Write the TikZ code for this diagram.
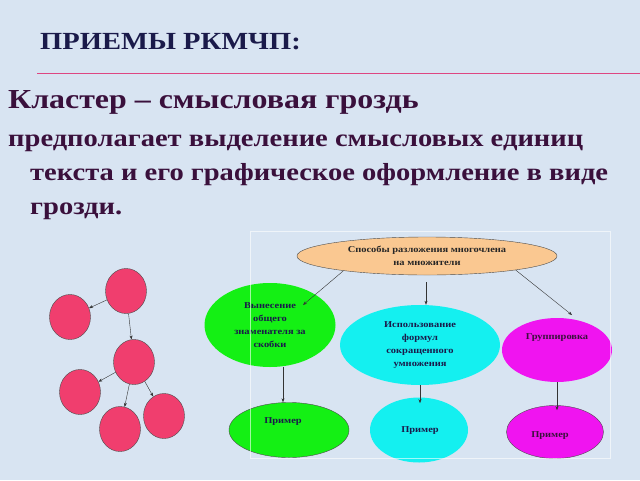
\documentclass[tikz,border=0pt]{standalone}
\usepackage{fontspec}
\setmainfont{Liberation Serif}
\newfontfamily\widefont[FakeStretch=1.16]{Liberation Serif}
\usetikzlibrary{shapes.geometric,arrows.meta}
\definecolor{slidebg}{RGB}{216,228,242}
\definecolor{titleblue}{RGB}{26,26,74}
\definecolor{headpurple}{RGB}{58,16,60}
\definecolor{rulepink}{RGB}{222,70,130}
\definecolor{grapepink}{RGB}{240,62,110}
\definecolor{peach}{RGB}{250,200,145}
\definecolor{limegreen}{RGB}{20,240,20}
\definecolor{brightcyan}{RGB}{20,240,240}
\definecolor{brightmagenta}{RGB}{240,20,240}

\begin{document}
\begin{tikzpicture}[x=1pt,y=-1pt,
  slidetext/.style={anchor=base west, inner sep=0pt, text=headpurple},
  grape/.style={ellipse, draw=black!70, fill=grapepink, minimum width=41pt, minimum height=45pt, inner sep=0pt},
  way/.style={ellipse, inner sep=0pt, align=center, font=\widefont\fontsize{9}{13}\selectfont\bfseries, text=titleblue},
  link/.style={-{Stealth[length=4pt,width=3pt]}, thin, black!80}]
\useasboundingbox[fill=slidebg] (0,0) rectangle (640,480);

% heading
\node[slidetext, text=titleblue, font=\widefont\fontsize{24.6}{28}\selectfont\bfseries] (title) at (40,49) {ПРИЕМЫ РКМЧП:};
\draw[rulepink, line width=1pt] (37,73) -- (640,73);
\node[slidetext, font=\widefont\fontsize{27.5}{32}\selectfont\bfseries] (head) at (8,108) {Кластер – смысловая гроздь};
\node[slidetext, font=\widefont\fontsize{24.6}{30}\selectfont\bfseries] (line1) at (8,146) {предполагает выделение смысловых единиц};
\node[slidetext, font=\widefont\fontsize{24.6}{30}\selectfont\bfseries] (line2) at (30,180) {текста и его графическое оформление в виде};
\node[slidetext, font=\widefont\fontsize{24.6}{30}\selectfont\bfseries] (line3) at (30,214) {грозди.};

% cluster
\node[grape] (g1) at (126,291) {};
\node[grape] (g2) at (70,317) {};
\node[grape] (g3) at (134,362) {};
\node[grape] (g4) at (80,392) {};
\node[grape] (g5) at (120,429) {};
\node[grape] (g6) at (164,416) {};
\draw[link] (g1) -- (g2);
\draw[link] (g1) -- (g3);
\draw[link] (g3) -- (g4);
\draw[link] (g3) -- (g5);
\draw[link] (g3) -- (g6);

% scheme
\node[way, fill=peach, draw=black!70, minimum width=260pt, minimum height=38pt, text=black!85] (root) at (427,256) {Способы разложения многочлена\\на множители};
\node[way, fill=limegreen, minimum width=131pt, minimum height=84pt] (out) at (270,325) {Вынесение\\общего\\знаменателя за\\скобки};
\node[way, fill=brightcyan, minimum width=160pt, minimum height=80pt] (formula) at (420,345) {Использование\\формул\\сокращенного\\умножения};
\node[way, fill=brightmagenta, minimum width=110pt, minimum height=64pt] (group) at (557,350) {};
\node[way, fill=limegreen, draw=black!70, minimum width=120pt, minimum height=55pt] (ex1) at (289,430) {};
\node[way, fill=brightcyan, minimum width=98pt, minimum height=65pt] (ex2) at (419,430) {};
\node[way, fill=brightmagenta, draw=black!70, minimum width=97pt, minimum height=53pt] (ex3) at (555,432) {};
\node[way, text=headpurple] (grouptext) at (557,338) {Группировка};
\node[way] (ex1text) at (283,422) {Пример};
\node[way] (ex2text) at (420,431) {Пример};
\node[way, text=headpurple] (ex3text) at (550,436) {Пример};
\coordinate (end1) at (303,305);
\coordinate (start2) at (426,282);
\coordinate (end3) at (572,315);
\draw[link] (root.190) -- (end1);
\draw[link] (start2) -- (start2 |- formula.north);
\draw[link] (root.-9) -- (end3);
\draw[link] (out.south -| ex1text) -- (ex1.north -| ex1text);
\draw[link] (formula.south) -- ++(0,18);
\draw[link] (group.south) -- ++(0,28);
\draw[white, opacity=0.6] (250,231) rectangle (610,458);
\end{tikzpicture}
\end{document}
